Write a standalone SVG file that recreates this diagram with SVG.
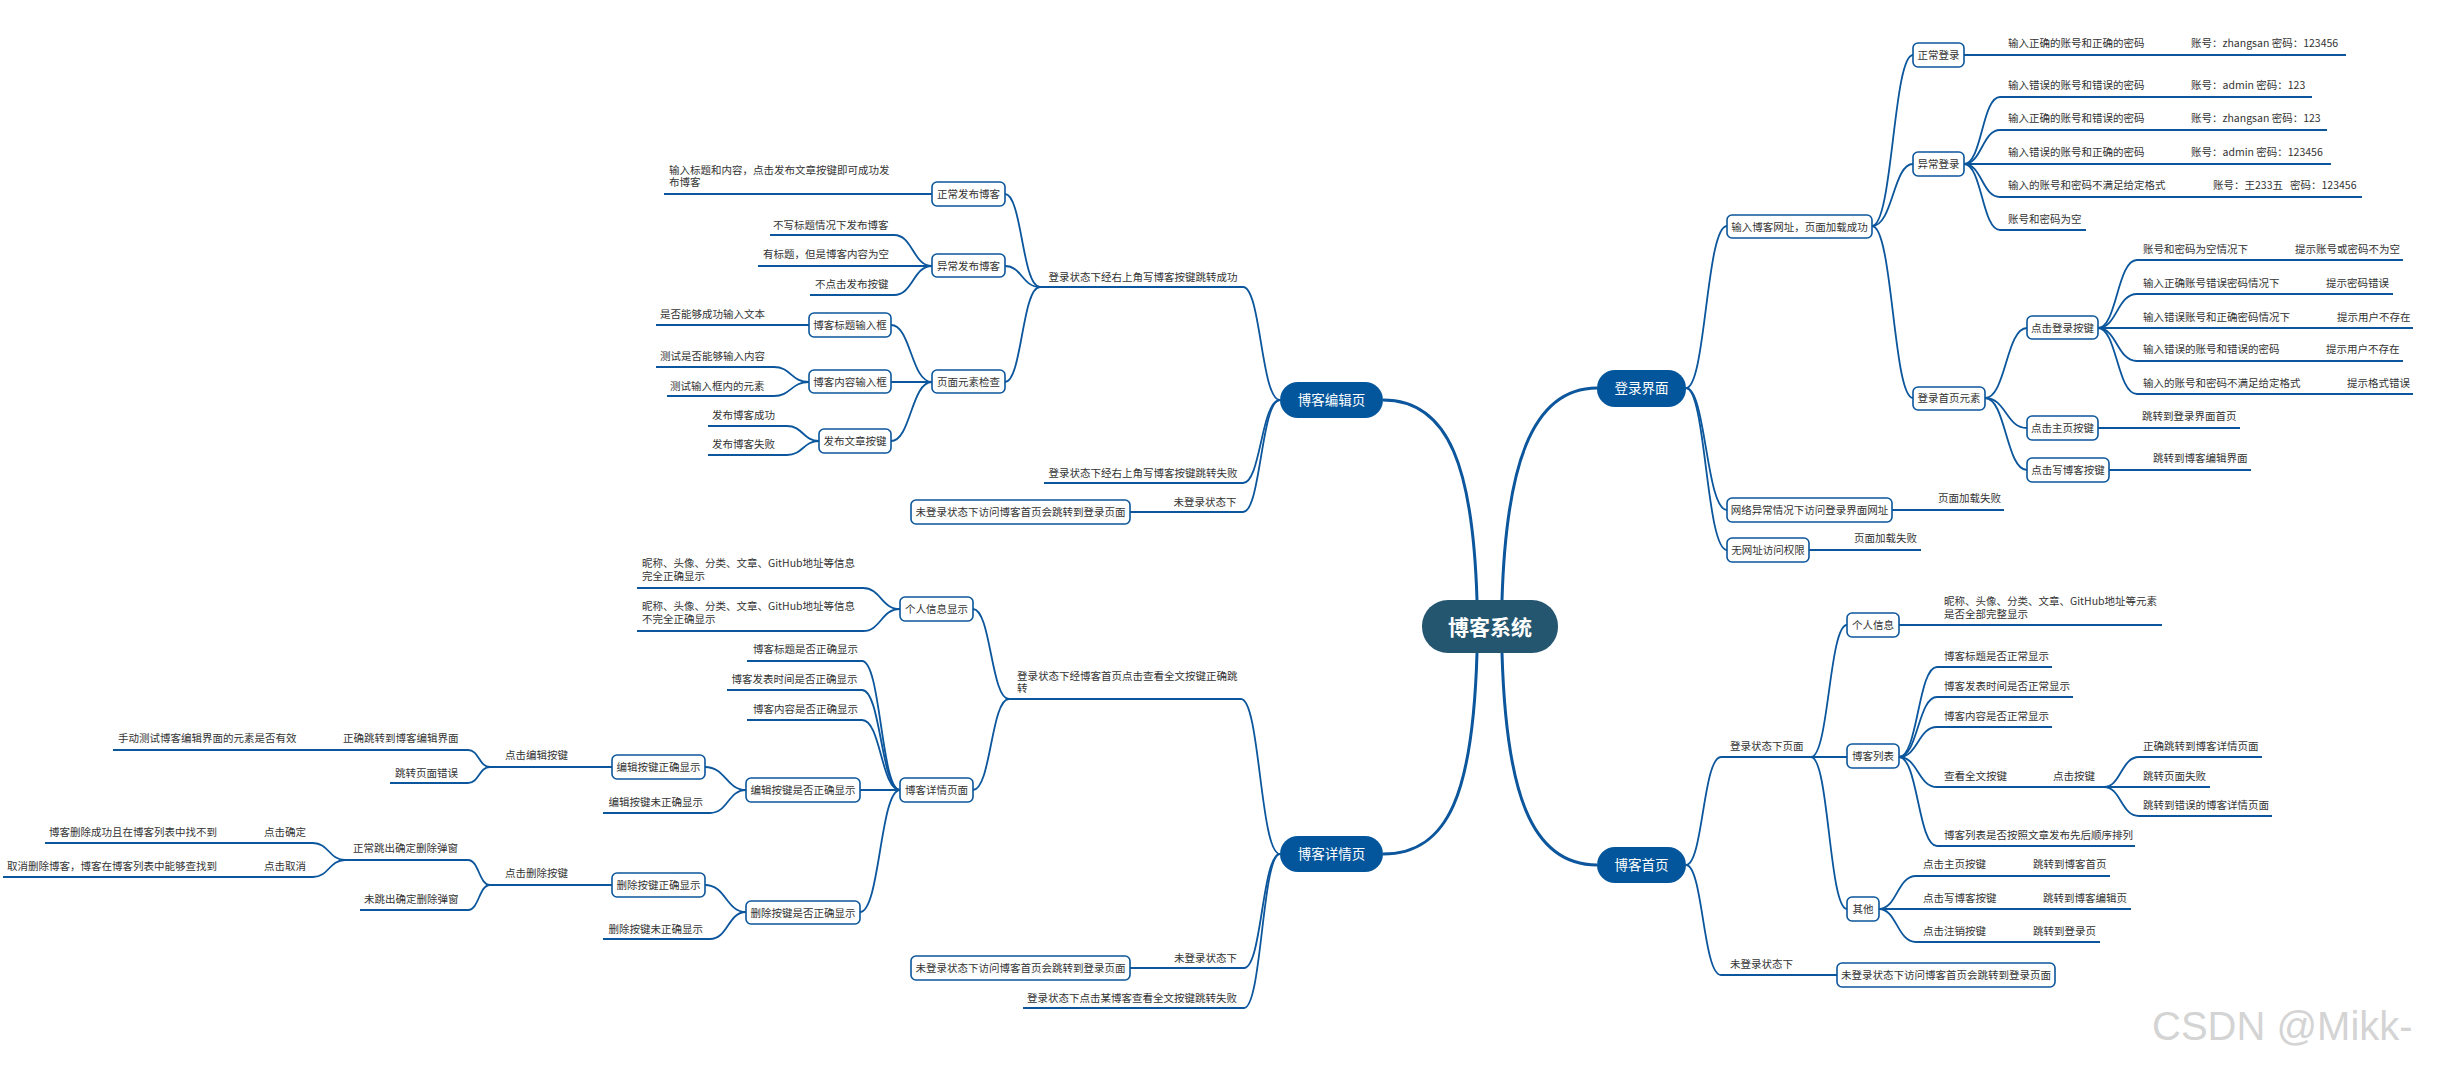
<svg xmlns="http://www.w3.org/2000/svg" width="2451" height="1065" viewBox="0 0 2451 1065">
<style>
.c{fill:none;stroke:#0b569c;stroke-width:1.8}
.m{fill:none;stroke:#0b569c;stroke-width:3}
.n{fill:#fff;stroke:#0b569c;stroke-width:1.6}
.mn{fill:#03569b}
.t{font-family:"Noto Sans CJK SC","Noto Sans",sans-serif;font-size:10.5px;fill:#333}
.tc{text-anchor:middle}
.mt{font-family:"Noto Sans CJK SC","Noto Sans",sans-serif;font-size:13.5px;fill:#fff;text-anchor:middle}
.ct{font-family:"Noto Sans CJK SC","Noto Sans",sans-serif;font-size:21px;font-weight:bold;fill:#fff;text-anchor:middle}
.wm{font-family:"Liberation Sans","Noto Sans",sans-serif;font-size:40px;fill:#c8c8c8;fill-opacity:0.8}
</style>
<rect width="2451" height="1065" fill="#fff"/>
<g id="connectors">
<path class="m" d="M1502,600 C1506,470 1530,388 1597,388"/>
<path class="m" d="M1477,600 C1473,470 1450,400 1383,400"/>
<path class="m" d="M1477,653 C1473,790 1450,854 1383,854"/>
<path class="m" d="M1502,653 C1506,790 1530,865 1597,865"/>
<path class="c" d="M1686,388 C1706,388 1706,226 1727,226"/>
<path class="c" d="M1686,388 C1706,388 1706,510 1727,510"/>
<path class="c" d="M1686,388 C1706,388 1706,550 1727,550"/>
<path class="c" d="M1892,510 H2004"/>
<path class="c" d="M1809,550 H1921"/>
<path class="c" d="M1872,226 C1893,226 1893,55 1913,55"/>
<path class="c" d="M1872,226 C1893,226 1893,164 1913,164"/>
<path class="c" d="M1872,226 C1893,226 1893,398 1913,398"/>
<path class="c" d="M1964,55 H2346"/>
<path class="c" d="M1964,164 C1982,164 1982,97 2000,97 H2312"/>
<path class="c" d="M1964,164 C1982,164 1982,130 2000,130 H2327"/>
<path class="c" d="M1964,164 H2331"/>
<path class="c" d="M1964,164 C1982,164 1982,197 2000,197 H2362"/>
<path class="c" d="M1964,164 C1982,164 1982,230 2000,230 H2086"/>
<path class="c" d="M1985,398 C2006,398 2006,328 2027,328"/>
<path class="c" d="M1985,398 C2006,398 2006,428 2027,428"/>
<path class="c" d="M1985,398 C2006,398 2006,470 2027,470"/>
<path class="c" d="M2098,328 C2117,328 2117,260 2137,260 H2403"/>
<path class="c" d="M2098,328 C2117,328 2117,294 2137,294 H2393"/>
<path class="c" d="M2098,328 H2413"/>
<path class="c" d="M2098,328 C2117,328 2117,361 2137,361 H2403"/>
<path class="c" d="M2098,328 C2117,328 2117,394 2137,394 H2413"/>
<path class="c" d="M2098,428 H2240"/>
<path class="c" d="M2109,470 H2251"/>
<path class="c" d="M1686,865 C1703,865 1703,757 1721,757 H1847"/>
<path class="c" d="M1686,865 C1703,865 1703,975 1721,975 H1837"/>
<path class="c" d="M1811,757 C1829,757 1829,625 1847,625"/>
<path class="c" d="M1811,757 C1829,757 1829,909 1847,909"/>
<path class="c" d="M1899,625 H2162"/>
<path class="c" d="M1899,757 C1918,757 1918,667 1937,667 H2052"/>
<path class="c" d="M1899,757 C1918,757 1918,697 1937,697 H2073"/>
<path class="c" d="M1899,757 C1918,757 1918,727 1937,727 H2052"/>
<path class="c" d="M1899,757 C1918,757 1918,787 1937,787 H2104"/>
<path class="c" d="M1899,757 C1918,757 1918,846 1937,846 H2135"/>
<path class="c" d="M2104,787 C2121,787 2121,757 2139,757 H2262"/>
<path class="c" d="M2104,787 H2210"/>
<path class="c" d="M2104,787 C2121,787 2121,816 2139,816 H2272"/>
<path class="c" d="M1879,909 C1897,909 1897,876 1916,876 H2110"/>
<path class="c" d="M1879,909 H2131"/>
<path class="c" d="M1879,909 C1897,909 1897,942 1916,942 H2100"/>
<path class="c" d="M1280,400 C1261,400 1261,287 1243,287 H1040"/>
<path class="c" d="M1280,400 C1261,400 1261,483 1243,483 H1044"/>
<path class="c" d="M1280,400 C1261,400 1261,512 1243,512 H1130"/>
<path class="c" d="M1040,287 C1022,287 1022,194 1005,194"/>
<path class="c" d="M1040,287 C1022,287 1022,266 1005,266"/>
<path class="c" d="M1040,287 C1022,287 1022,382 1005,382"/>
<path class="c" d="M932,194 H664"/>
<path class="c" d="M932,266 C913,266 913,235 894,235 H770"/>
<path class="c" d="M932,266 H758"/>
<path class="c" d="M932,266 C913,266 913,295 894,295 H810"/>
<path class="c" d="M932,382 C911,382 911,325 891,325"/>
<path class="c" d="M932,382 H891"/>
<path class="c" d="M932,382 C911,382 911,441 891,441"/>
<path class="c" d="M809,325 H656"/>
<path class="c" d="M809,382 C791,382 791,367 774,367 H656"/>
<path class="c" d="M809,382 C791,382 791,396 774,396 H667"/>
<path class="c" d="M819,441 C803,441 803,426 787,426 H708"/>
<path class="c" d="M819,441 C803,441 803,455 787,455 H708"/>
<path class="c" d="M1280,854 C1260,854 1260,699 1241,699 H1009"/>
<path class="c" d="M1280,854 C1262,854 1262,968 1244,968 H1130"/>
<path class="c" d="M1280,854 C1262,854 1262,1008 1244,1008 H1023"/>
<path class="c" d="M1009,699 C991,699 991,609 973,609"/>
<path class="c" d="M1009,699 C991,699 991,790 973,790"/>
<path class="c" d="M900,609 C881,609 881,588 863,588 H637"/>
<path class="c" d="M900,609 C881,609 881,631 863,631 H637"/>
<path class="c" d="M900,790 C881,790 881,661 862,661 H747"/>
<path class="c" d="M900,790 C881,790 881,690 862,690 H727"/>
<path class="c" d="M900,790 C881,790 881,720 862,720 H747"/>
<path class="c" d="M900,790 H860"/>
<path class="c" d="M900,790 C880,790 880,912 860,912"/>
<path class="c" d="M746,790 C726,790 726,767 705,767"/>
<path class="c" d="M746,790 C728,790 728,813 710,813 H603"/>
<path class="c" d="M612,767 H490"/>
<path class="c" d="M490,767 C479,767 479,750 468,750 H113"/>
<path class="c" d="M490,767 C479,767 479,783 468,783 H390"/>
<path class="c" d="M746,912 C726,912 726,885 705,885"/>
<path class="c" d="M746,912 C728,912 728,939 710,939 H603"/>
<path class="c" d="M612,885 H490"/>
<path class="c" d="M490,885 C479,885 479,860 468,860 H345"/>
<path class="c" d="M490,885 C479,885 479,910 468,910 H360"/>
<path class="c" d="M345,860 C329,860 329,843 313,843 H45"/>
<path class="c" d="M345,860 C329,860 329,877 313,877 H3"/>
</g>

<g id="center"><rect x="1422" y="600" width="136" height="53" rx="26" fill="#25566f"/><text class="ct" x="1490" y="635">博客系统</text></g>

<!-- Login -->
<g id="login"><rect class="mn" x="1597" y="370" width="89" height="37" rx="18"/><text class="mt" x="1641.5" y="393">登录界面</text></g>
<g id="login-url"><rect class="n" x="1727" y="215" width="145" height="23" rx="5"/><text class="t tc" x="1799.5" y="230.5">输入博客网址，页面加载成功</text></g>
<g id="login-normal"><rect class="n" x="1913" y="43" width="51" height="24" rx="5"/><text class="t tc" x="1938.5" y="59">正常登录</text></g>
<g id="login-normal-1"><text class="t" x="2008" y="47">输入正确的账号和正确的密码</text><text class="t" x="2191" y="47">账号：zhangsan 密码：123456</text></g>
<g id="login-abnormal"><rect class="n" x="1913" y="152" width="51" height="24" rx="5"/><text class="t tc" x="1938.5" y="168">异常登录</text></g>
<g id="login-ab-1"><text class="t" x="2008" y="89">输入错误的账号和错误的密码</text><text class="t" x="2191" y="89">账号：admin 密码：123</text></g>
<g id="login-ab-2"><text class="t" x="2008" y="122">输入正确的账号和错误的密码</text><text class="t" x="2191" y="122">账号：zhangsan 密码：123</text></g>
<g id="login-ab-3"><text class="t" x="2008" y="156">输入错误的账号和正确的密码</text><text class="t" x="2191" y="156">账号：admin 密码：123456</text></g>
<g id="login-ab-4"><text class="t" x="2008" y="189">输入的账号和密码不满足给定格式</text><text class="t" x="2213" y="189" xml:space="preserve">账号：王233五   密码：123456</text></g>
<g id="login-ab-5"><text class="t" x="2008" y="223">账号和密码为空</text></g>
<g id="login-elements"><rect class="n" x="1913" y="387" width="72" height="23" rx="5"/><text class="t tc" x="1949" y="402">登录首页元素</text></g>
<g id="login-btn"><rect class="n" x="2027" y="316" width="71" height="23" rx="5"/><text class="t tc" x="2062.5" y="331.5">点击登录按键</text></g>
<g id="login-btn-1"><text class="t" x="2143" y="253">账号和密码为空情况下</text><text class="t" x="2295" y="253">提示账号或密码不为空</text></g>
<g id="login-btn-2"><text class="t" x="2143" y="287">输入正确账号错误密码情况下</text><text class="t" x="2326" y="287">提示密码错误</text></g>
<g id="login-btn-3"><text class="t" x="2143" y="321">输入错误账号和正确密码情况下</text><text class="t" x="2337" y="321">提示用户不存在</text></g>
<g id="login-btn-4"><text class="t" x="2143" y="353">输入错误的账号和错误的密码</text><text class="t" x="2326" y="353">提示用户不存在</text></g>
<g id="login-btn-5"><text class="t" x="2143" y="387">输入的账号和密码不满足给定格式</text><text class="t" x="2347" y="387">提示格式错误</text></g>
<g id="login-home"><rect class="n" x="2027" y="416" width="71" height="24" rx="5"/><text class="t tc" x="2062.5" y="432">点击主页按键</text></g>
<g id="login-home-1"><text class="t" x="2142" y="420">跳转到登录界面首页</text></g>
<g id="login-write"><rect class="n" x="2027" y="458" width="82" height="24" rx="5"/><text class="t tc" x="2068" y="474">点击写博客按键</text></g>
<g id="login-write-1"><text class="t" x="2153" y="462">跳转到博客编辑界面</text></g>
<g id="login-net"><rect class="n" x="1727" y="498" width="165" height="24" rx="5"/><text class="t tc" x="1809.5" y="514">网络异常情况下访问登录界面网址</text></g>
<g id="login-net-1"><text class="t" x="1938" y="502">页面加载失败</text></g>
<g id="login-noauth"><rect class="n" x="1727" y="538" width="82" height="24" rx="5"/><text class="t tc" x="1768" y="554">无网址访问权限</text></g>
<g id="login-noauth-1"><text class="t" x="1854" y="542">页面加载失败</text></g>

<!-- Home -->
<g id="home"><rect class="mn" x="1597" y="847" width="89" height="36" rx="18"/><text class="mt" x="1641.5" y="870">博客首页</text></g>
<g id="home-in"><text class="t" x="1730" y="750">登录状态下页面</text></g>
<g id="home-out"><text class="t" x="1730" y="968">未登录状态下</text></g>
<g id="home-out-1"><rect class="n" x="1837" y="963" width="218" height="24" rx="5"/><text class="t tc" x="1946" y="979">未登录状态下访问博客首页会跳转到登录页面</text></g>
<g id="home-info"><rect class="n" x="1847" y="613" width="52" height="24" rx="5"/><text class="t tc" x="1873" y="629">个人信息</text></g>
<g id="home-info-1"><text class="t" x="1944" y="605">昵称、头像、分类、文章、GitHub地址等元素</text><text class="t" x="1944" y="618">是否全部完整显示</text></g>
<g id="home-list"><rect class="n" x="1847" y="744" width="52" height="24" rx="5"/><text class="t tc" x="1873" y="760">博客列表</text></g>
<g id="home-list-1"><text class="t" x="1944" y="660">博客标题是否正常显示</text></g>
<g id="home-list-2"><text class="t" x="1944" y="690">博客发表时间是否正常显示</text></g>
<g id="home-list-3"><text class="t" x="1944" y="720">博客内容是否正常显示</text></g>
<g id="home-list-4"><text class="t" x="1944" y="780">查看全文按键</text><text class="t" x="2053" y="780">点击按键</text></g>
<g id="home-list-4-1"><text class="t" x="2143" y="750">正确跳转到博客详情页面</text></g>
<g id="home-list-4-2"><text class="t" x="2143" y="780">跳转页面失败</text></g>
<g id="home-list-4-3"><text class="t" x="2143" y="809">跳转到错误的博客详情页面</text></g>
<g id="home-list-5"><text class="t" x="1944" y="839">博客列表是否按照文章发布先后顺序排列</text></g>
<g id="home-other"><rect class="n" x="1847" y="897" width="32" height="24" rx="5"/><text class="t tc" x="1863" y="913">其他</text></g>
<g id="home-other-1"><text class="t" x="1923" y="868">点击主页按键</text><text class="t" x="2033" y="868">跳转到博客首页</text></g>
<g id="home-other-2"><text class="t" x="1923" y="902">点击写博客按键</text><text class="t" x="2043" y="902">跳转到博客编辑页</text></g>
<g id="home-other-3"><text class="t" x="1923" y="935">点击注销按键</text><text class="t" x="2033" y="935">跳转到登录页</text></g>

<!-- Edit -->
<g id="edit"><rect class="mn" x="1280" y="382" width="103" height="36" rx="18"/><text class="mt" x="1331.5" y="405">博客编辑页</text></g>
<g id="edit-ok"><text class="t" x="1048.5" y="281">登录状态下经右上角写博客按键跳转成功</text></g>
<g id="edit-fail"><text class="t" x="1048.5" y="477">登录状态下经右上角写博客按键跳转失败</text></g>
<g id="edit-out"><text class="t" x="1173.5" y="506">未登录状态下</text></g>
<g id="edit-out-1"><rect class="n" x="911" y="500" width="219" height="24" rx="5"/><text class="t tc" x="1020.5" y="516">未登录状态下访问博客首页会跳转到登录页面</text></g>
<g id="edit-normal"><rect class="n" x="932" y="182" width="73" height="24" rx="5"/><text class="t tc" x="968.5" y="198">正常发布博客</text></g>
<g id="edit-normal-1"><text class="t" x="669" y="174">输入标题和内容，点击发布文章按键即可成功发</text><text class="t" x="669" y="186">布博客</text></g>
<g id="edit-abnormal"><rect class="n" x="932" y="254" width="73" height="23" rx="5"/><text class="t tc" x="968.5" y="269.5">异常发布博客</text></g>
<g id="edit-ab-1"><text class="t" x="773" y="229">不写标题情况下发布博客</text></g>
<g id="edit-ab-2"><text class="t" x="763" y="258">有标题，但是博客内容为空</text></g>
<g id="edit-ab-3"><text class="t" x="815" y="288">不点击发布按键</text></g>
<g id="edit-elements"><rect class="n" x="932" y="370" width="73" height="23" rx="5"/><text class="t tc" x="968.5" y="385.5">页面元素检查</text></g>
<g id="edit-title"><rect class="n" x="809" y="313" width="82" height="24" rx="5"/><text class="t tc" x="850" y="329">博客标题输入框</text></g>
<g id="edit-title-1"><text class="t" x="660" y="318">是否能够成功输入文本</text></g>
<g id="edit-content"><rect class="n" x="809" y="370" width="82" height="23" rx="5"/><text class="t tc" x="850" y="385.5">博客内容输入框</text></g>
<g id="edit-content-1"><text class="t" x="660" y="360">测试是否能够输入内容</text></g>
<g id="edit-content-2"><text class="t" x="670" y="390">测试输入框内的元素</text></g>
<g id="edit-publish"><rect class="n" x="819" y="429" width="72" height="24" rx="5"/><text class="t tc" x="855" y="445">发布文章按键</text></g>
<g id="edit-publish-1"><text class="t" x="712" y="419">发布博客成功</text></g>
<g id="edit-publish-2"><text class="t" x="712" y="448">发布博客失败</text></g>

<!-- Detail -->
<g id="detail"><rect class="mn" x="1280" y="836" width="103" height="36" rx="18"/><text class="mt" x="1331.5" y="859">博客详情页</text></g>
<g id="detail-ok"><text class="t" x="1017" y="680">登录状态下经博客首页点击查看全文按键正确跳</text><text class="t" x="1017" y="692">转</text></g>
<g id="detail-out"><text class="t" x="1174" y="962">未登录状态下</text></g>
<g id="detail-out-1"><rect class="n" x="911" y="956" width="219" height="24" rx="5"/><text class="t tc" x="1020.5" y="972">未登录状态下访问博客首页会跳转到登录页面</text></g>
<g id="detail-fail"><text class="t" x="1027" y="1002">登录状态下点击某博客查看全文按键跳转失败</text></g>
<g id="detail-info"><rect class="n" x="900" y="597" width="73" height="24" rx="5"/><text class="t tc" x="936.5" y="613">个人信息显示</text></g>
<g id="detail-info-1"><text class="t" x="642" y="567">昵称、头像、分类、文章、GitHub地址等信息</text><text class="t" x="642" y="580">完全正确显示</text></g>
<g id="detail-info-2"><text class="t" x="642" y="610">昵称、头像、分类、文章、GitHub地址等信息</text><text class="t" x="642" y="623">不完全正确显示</text></g>
<g id="detail-page"><rect class="n" x="900" y="778" width="73" height="24" rx="5"/><text class="t tc" x="936.5" y="794">博客详情页面</text></g>
<g id="detail-page-1"><text class="t" x="753" y="653">博客标题是否正确显示</text></g>
<g id="detail-page-2"><text class="t" x="731.5" y="683">博客发表时间是否正确显示</text></g>
<g id="detail-page-3"><text class="t" x="753" y="713">博客内容是否正确显示</text></g>
<g id="detail-edit"><rect class="n" x="746" y="778" width="114" height="24" rx="5"/><text class="t tc" x="803" y="794">编辑按键是否正确显示</text></g>
<g id="detail-edit-ok"><rect class="n" x="612" y="755" width="93" height="24" rx="5"/><text class="t tc" x="658.5" y="771">编辑按键正确显示</text></g>
<g id="detail-edit-no"><text class="t" x="608.6" y="806">编辑按键未正确显示</text></g>
<g id="detail-edit-click"><text class="t" x="505" y="759">点击编辑按键</text></g>
<g id="detail-edit-click-1"><text class="t" x="118" y="742">手动测试博客编辑界面的元素是否有效</text><text class="t" x="343" y="742">正确跳转到博客编辑界面</text></g>
<g id="detail-edit-click-2"><text class="t" x="395" y="777">跳转页面错误</text></g>
<g id="detail-del"><rect class="n" x="746" y="901" width="114" height="23" rx="5"/><text class="t tc" x="803" y="916.5">删除按键是否正确显示</text></g>
<g id="detail-del-ok"><rect class="n" x="612" y="873" width="93" height="24" rx="5"/><text class="t tc" x="658.5" y="889">删除按键正确显示</text></g>
<g id="detail-del-no"><text class="t" x="608.6" y="933">删除按键未正确显示</text></g>
<g id="detail-del-click"><text class="t" x="505" y="877">点击删除按键</text></g>
<g id="detail-del-pop"><text class="t" x="353" y="852">正常跳出确定删除弹窗</text></g>
<g id="detail-del-nopop"><text class="t" x="364" y="903">未跳出确定删除弹窗</text></g>
<g id="detail-del-confirm"><text class="t" x="49" y="836">博客删除成功且在博客列表中找不到</text><text class="t" x="264" y="836">点击确定</text></g>
<g id="detail-del-cancel"><text class="t" x="7" y="870">取消删除博客，博客在博客列表中能够查找到</text><text class="t" x="264" y="870">点击取消</text></g>

<text class="wm" x="2152" y="1040">CSDN @Mikk-</text>
</svg>
